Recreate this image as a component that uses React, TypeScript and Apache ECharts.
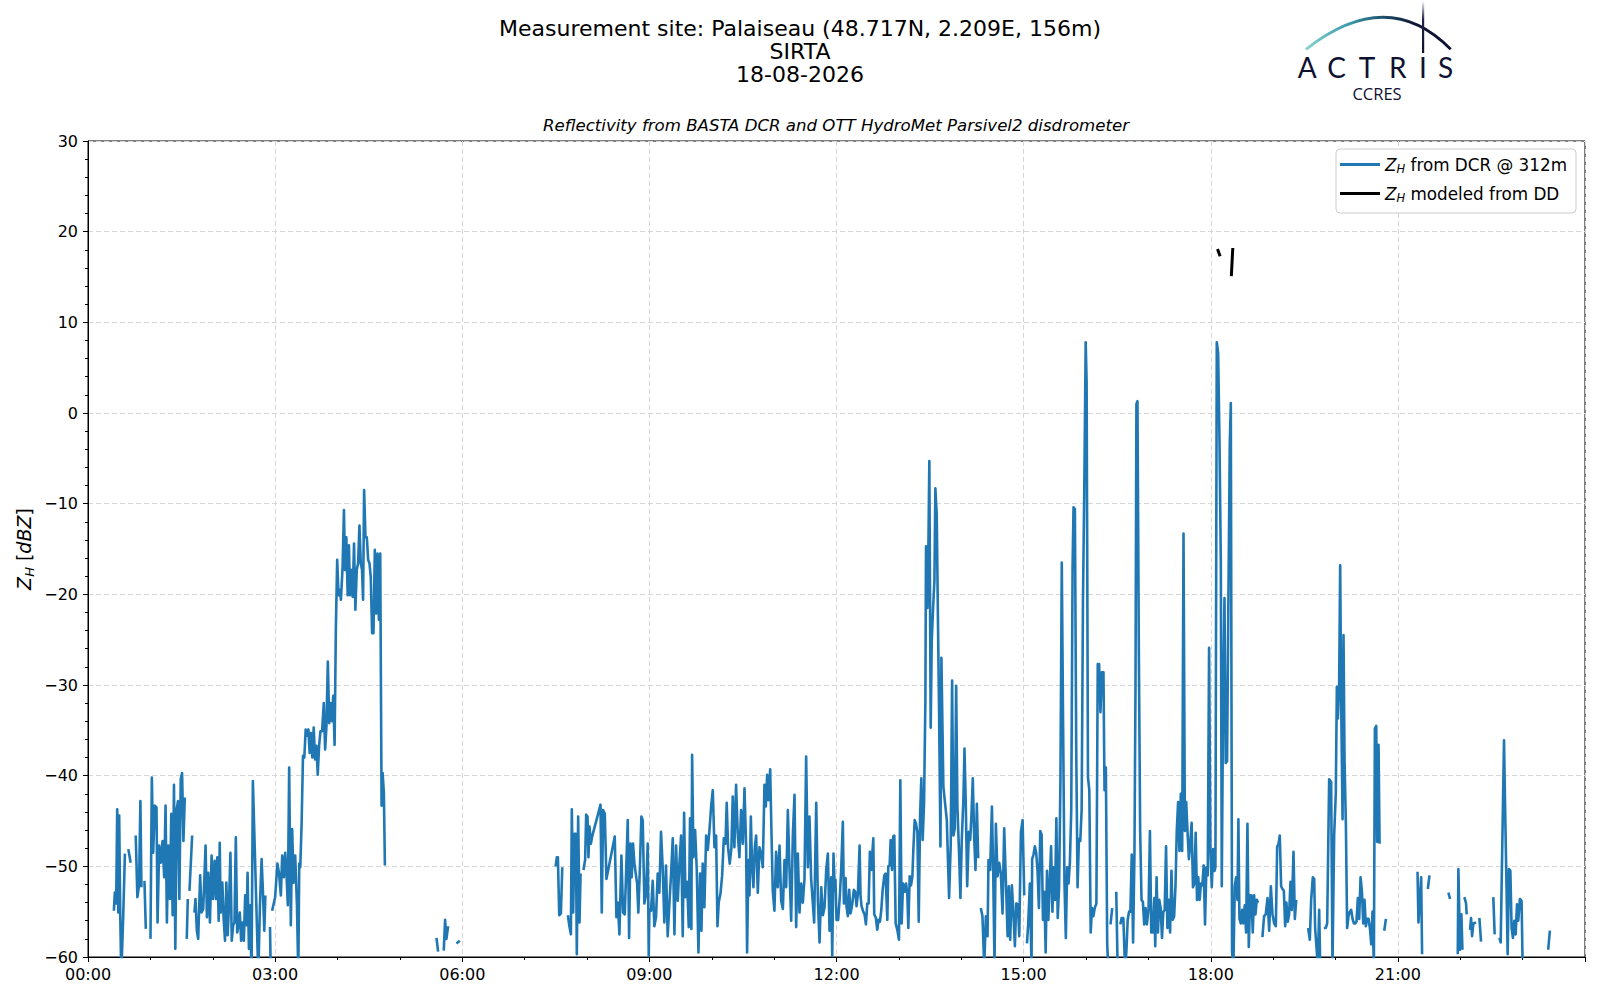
import React, { useEffect, useRef } from "react";
import * as echarts from "echarts";

// ---- texts ----
const titleLines = ["Measurement site: Palaiseau (48.717N, 2.209E, 156m)", "SIRTA", "18-08-2026"];
const subTitle = "Reflectivity from BASTA DCR and OTT HydroMet Parsivel2 disdrometer";
const seriesDcrName = "Z_H from DCR @ 312m";
const seriesDdName = "Z_H modeled from DD";
const logoLetters = ["A", "C", "T", "R", "I", "S"];

// ---- axes ----
const xMinMinutes = 0;
const xMaxMinutes = 1440;
const xTickStep = 180; // 3 h
const yMin = -60;
const yMax = 30;
const yTickStep = 10;

// ---- data: [minutes after 00:00 UTC, Z_H dBZ]; null = no data ----
const dcrNight = [
  [24.9, -54.9], [25.8, -52.9], [27.1, -54.1], [28.1, -43.7], [29.1, -55.1], [30.0, -44.4], [31.0, -55.2], [32.0, -62], [33.9, -55.4], [35.5, -48.6], [37, null],
  [38.8, -48.1], [41.0, -49.6], [43, null],
  [45.9, -46.6], [47.5, -53.4], [49.1, -52.1], [50.4, -42.8], [51.4, -52.3], [53, null],
  [54.3, -51.6], [55.6, -56.9], [58, null],
  [60.1, -58.0], [61.4, -40.2], [62.7, -48.5], [64.3, -43.3], [65.9, -43.5], [66.9, -56.2], [68.5, -47.7], [70.1, -49.6], [71.7, -47.2], [73.3, -51.2],
  [74.6, -43.3], [75.9, -56.2], [77.2, -47.7], [78.8, -53.6], [80.1, -44.2], [81.4, -55.4], [82.7, -41.0], [84.0, -59.1], [85.3, -43.7], [86.6, -42.8],
  [87.9, -53.6], [89.2, -40.4], [90.5, -39.7], [91.8, -47.2], [93.1, -42.4], [94, null],
  [95.0, -58.0], [96.0, -53.6], [96.8, null],
  [97.6, -52.7], [100.2, -46.6], [101.3, null],
  [102.4, -55.1], [103.4, -53.6], [104.7, -57.1], [106.0, -58.0], [107.9, -51.0], [109.2, -55.1], [110.8, -54.7], [113.1, -47.7], [114.4, -55.6],
  [115.7, -50.7], [117.3, -56.2], [118.9, -48.8], [120.2, -53.6], [121.8, -49.4], [123.1, -53.6], [124.4, -49.0], [125.7, -56.0], [126.7, -47.4],
  [127.6, -55.1], [129.2, -51.8], [130.5, -55.8], [131.8, -58.2], [133.1, -51.8], [134.4, -57.6], [135.7, -54.0], [137.0, -48.5], [138.3, -58.2],
  [139.6, -56.5], [140.9, -56.2], [142.2, -46.8], [143.5, -57.3], [144.7, -56.5], [146.0, -55.1], [147.3, -58.2], [148.6, -56.2], [149.9, -58.2],
  [151.2, -53.2], [152.5, -56.5], [153.5, -50.7], [154.8, -59.1], [156.1, -54.3], [157.3, -62], [158.6, -40.6], [163.8, -62], [165.4, -54.3],
  [167.0, -49.2], [168.3, -52.9], [169.6, -57.1], [170.6, -53.2], [173, null],
  [175.1, -56.7], [175.8, -62], [176.5, null],
  [177.1, -54.9], [180.0, -53.4], [180.9, -51.9], [182.2, -49.7], [183.8, -50.8], [185.5, -53.2], [186.8, -48.8], [188.4, -51.2], [189.7, -48.5],
  [191.0, -51.0], [192.2, -54.3], [193.5, -39.1], [195.1, -56.5], [196.4, -45.9], [197.7, -51.8], [199.3, -48.8], [201.0, -54.3], [202.3, -62],
  [203.2, -49.7], [204.2, -50.1], [205.5, -45.2], [206.8, -37.8], [208.1, -38.0], [209.4, -34.9], [210.7, -35.6], [212.0, -34.9], [213.2, -37.5],
  [214.5, -35.3], [215.8, -38.0], [217.1, -34.7], [218.4, -38.2], [219.7, -36.7], [221.0, -39.9], [222.3, -36.7], [223.6, -35.1], [225.2, -35.1],
  [226.8, -32.0], [228.1, -37.1], [229.4, -34.5], [230.7, -27.4], [232.0, -34.2], [233.3, -32.0], [234.6, -34.0], [235.9, -31.2], [237.2, -36.6],
  [238.4, -23.9], [239.7, -16.2], [241.0, -20.1], [242.3, -19.5], [243.3, -20.6], [244.9, -17.0], [246.2, -10.7], [247.2, -17.3], [248.5, -13.7],
  [249.8, -20.1], [251.0, -14.6], [252.0, -20.1], [253.3, -17.3], [254.6, -20.3], [255.9, -14.4], [257.2, -21.7], [258.5, -17.3], [259.8, -16.6],
  [261.1, -12.4], [262.4, -16.6], [263.6, -17.3], [264.6, -20.6], [265.6, -8.5], [266.9, -13.7], [268.2, -13.7], [269.5, -16.2], [270.8, -16.6],
  [272.0, -18.1], [273.3, -24.3], [274.6, -24.3], [275.9, -15.1], [277.2, -22.1], [278.5, -15.5], [279.8, -22.8], [281.1, -15.5], [282.4, -43.3],
  [283.4, -39.7], [284.6, -41.9], [285.6, -49.9], [300, null],
];

const dcrDawn = [
  [335.2, -57.9], [336.8, -59.4], [339, null],
  [342.2, -59.3], [343.5, -55.9], [344.8, -58.0], [346.4, -56.6], [350, null],
  [354.4, -58.5], [357.6, -58.2], [400, null],
];

const dcrMorning = [
  [449.8, -50.0], [451.0, -49.0], [452.0, -49.0], [453.3, -55.4], [454.9, -55.2], [456.2, -50.1], [458, null],
  [461.6, -55.4], [463.2, -56.7], [464.5, -57.5], [465.4, -43.7], [466.7, -55.1], [468.0, -46.4], [469.3, -46.4], [470.2, -59.7], [471.5, -44.5],
  [472.8, -56.2], [473.8, -50.8], [475, null],
  [476.6, -50.4], [478.2, -49.3], [479.2, -44.3], [480.5, -44.5], [481.4, -49.0], [482.4, -45.6], [483.7, -47.5], [485.0, -46.7], [493.0, -43.2],
  [494.2, -55.1], [495.5, -43.8], [497.1, -44.2], [498.7, -51.4], [506.7, -46.7], [508.3, -55.6], [509.6, -54.0], [511.2, -57.5], [513.1, -48.8],
  [514.7, -55.1], [516.3, -55.3], [517.3, -51.9], [519.2, -44.9], [520.5, -57.9], [521.8, -47.5], [523.0, -51.2], [524.3, -47.5], [525.6, -49.7],
  [528.2, -51.9], [529.4, -55.1], [531.0, -49.7], [532.3, -44.5], [533.6, -44.9], [535.2, -54.1], [536.8, -53.0], [538.4, -47.5], [539.4, -59.9],
  [540.0, -54.7], [541.6, -54.9], [543.2, -51.6], [544.8, -56.6], [546.4, -55.6], [548.0, -50.8], [549.6, -52.9], [551.2, -46.2], [552.8, -50.1],
  [554.4, -56.2], [556.0, -49.9], [557.6, -57.7], [559.3, -54.0], [560.9, -50.8], [562.5, -46.9], [564.1, -57.5], [565.7, -47.7], [567.3, -53.8],
  [568.9, -49.7], [570.5, -46.6], [572.1, -57.7], [573.4, -44.1], [574.7, -53.4], [576.3, -51.7], [577.9, -56.7], [579.1, -44.7], [580.4, -56.9],
  [581.1, -37.7], [582.4, -49.0], [584.0, -46.0], [585.6, -50.4], [587.2, -59.5], [588.8, -50.8], [590.1, -57.1], [591.3, -49.7], [592.9, -54.5],
  [594.6, -46.6], [596.2, -48.2], [597.8, -46.0], [599.4, -43.4], [601.0, -41.6], [602.6, -47.9], [604.2, -46.6], [605.5, -56.6], [606.7, -54.0],
  [608.4, -53.0], [610.0, -51.0], [611.6, -46.9], [613.2, -47.5], [614.4, -43.0], [615.7, -47.9], [617.3, -49.7], [618.9, -48.0], [620.2, -42.3],
  [621.8, -47.9], [623.4, -41.0], [625.0, -46.4], [626.6, -49.0], [628.2, -43.8], [629.9, -47.5], [631.5, -41.4], [633.1, -47.9], [634.0, -59.5],
  [635.3, -49.3], [636.3, -53.2], [637.6, -44.5], [638.8, -50.1], [640.1, -52.3], [641.4, -47.9], [642.7, -46.6], [644.3, -52.9], [645.9, -47.9],
  [647.5, -48.6], [649.1, -50.1], [650.7, -41.0], [652.0, -43.4], [653.3, -39.9], [654.6, -42.7], [656.2, -39.3], [657.4, -46.0], [658.7, -52.7],
  [660.3, -54.9], [661.9, -48.4], [663.5, -52.3], [665.2, -47.7], [666.8, -53.8], [668.4, -54.7], [670.0, -49.3], [671.6, -52.3], [673.2, -43.8],
  [674.8, -50.4], [676.4, -56.0], [678.0, -46.6], [679.6, -42.1], [681.2, -56.7], [682.8, -48.6], [684.4, -55.1], [686.0, -51.9], [687.6, -54.0],
  [689.2, -51.4], [690.8, -37.9], [692.4, -50.1], [694.0, -44.5], [695.6, -51.4], [697.2, -54.0], [698.5, -56.2], [700.5, -43.0], [702.1, -53.8],
  [703.7, -58.4], [705.3, -52.3], [706.9, -55.4], [708.5, -54.5], [710.1, -50.4], [711.7, -48.6], [713.3, -57.1], [714.9, -51.2], [715.9, -59.9],
  [717.1, -48.6], [718.4, -52.7],
];

const dcrAfternoon = [
  [719.0, -51.5], [720.0, -55.9], [721.6, -55.9], [723.2, -53.3], [724.5, -50.4], [726.1, -45.1], [727.1, -54.1], [728.7, -51.3], [729.6, -54.4],
  [730.9, -55.5], [732.2, -52.6], [733.5, -55.2], [735.1, -54.2], [736.7, -52.6], [738.0, -52.8], [739.3, -54.4], [740.6, -53.0], [742.2, -47.7],
  [743.1, -53.2], [744.1, -54.4], [745.7, -55.0], [747.0, -55.3], [748.3, -56.4], [749.6, -54.1], [750.9, -54.1], [752.1, -48.4], [753.4, -50.4],
  [755.4, -46.9], [756.3, -55.3], [757.9, -55.7], [759.2, -57.0], [760.5, -55.9], [761.8, -56.1], [763.1, -54.8], [764.4, -52.6], [766.0, -51.0],
  [767.2, -50.8], [768.9, -55.9], [769.8, -50.0], [771.1, -49.9], [772.1, -47.1], [773.4, -50.4], [774.6, -46.7], [775.6, -46.6], [776.9, -56.3],
  [778.5, -57.0], [780.1, -58.1], [781.4, -40.5], [782.7, -56.3], [784.0, -51.9], [785.6, -52.8], [786.9, -51.9], [788.1, -53.0], [789.1, -56.8],
  [790.4, -51.1], [791.7, -52.1], [793.0, -51.1], [793.9, -48.2], [795.2, -44.9], [796.5, -45.3], [797.8, -46.2], [799.1, -56.1], [800.4, -44.5],
  [801.6, -40.3], [802.9, -47.1], [804.2, -43.1], [805.5, -31.7], [806.1, -14.7], [807.4, -21.5], [808.4, -14.9], [809.3, -5.3], [810.6, -34.7],
  [811.6, -25.2], [812.9, -21.5], [814.2, -18.5], [815.1, -8.3], [816.4, -11.2], [817.7, -23.8], [818.7, -33.2], [820.0, -47.8], [820.9, -27.0],
  [822.8, -41.2], [826.1, -44.9], [828.3, -53.5], [829.9, -47.5], [831.2, -29.5], [832.5, -46.6], [833.8, -45.8], [835.1, -30.1], [836.3, -43.4],
  [838.0, -48.9], [839.2, -53.5], [840.5, -47.1], [842.1, -42.5], [843.1, -37.0], [844.4, -43.4], [845.7, -52.2], [847.3, -46.2], [848.6, -47.1],
  [849.8, -44.4], [851.1, -40.3], [852.4, -46.7], [853.7, -50.4], [855.0, -43.1], [856.3, -49.1], [857.5, null],
  [858.8, -54.6], [860.4, -55.5], [862.1, -61], [863.7, -55.5], [865.3, -57.7], [866.2, -49.3], [867.8, -50.4], [869.5, -43.4], [870.7, -50.4],
  [872.0, -61], [873.3, -45.3], [874.9, -51.1], [876.5, -49.6], [878.1, -50.8], [879.7, -55.2], [881.3, -45.8], [882.9, -51.5], [884.6, -57.7],
  [885.8, -52.2], [887.1, -58.1], [888.7, -52.1], [890.3, -55.5], [891.6, -58.8], [892.9, -54.1], [894.5, -54.2], [895.8, -57.7], [897.4, -46.2],
  [899.0, -44.9], [900.6, -53.2], [902, null],
  [903.2, -58.5], [904.4, -56.4], [906.0, -51.9], [907.6, -61], [908.2, -49.2], [909.5, -48.7], [910.8, -47.8], [912.1, -48.5], [913.4, -50.5],
  [914.7, -54.6], [916.0, -46.1], [917.3, -46.5], [918.6, -55.9], [919.9, -52.8], [921.2, -59.5], [922.5, -50.5], [923.8, -55.9], [925.1, -51.9],
  [926.4, -47.8], [927.7, -55.0], [928.9, -50.1], [930.2, -53.7], [931.5, -44.7], [932.8, -55.7], [934.1, -52.3], [935.4, -40.7], [936.7, -16.5],
  [938.0, -34.8], [939.3, -51.9], [940.6, -57.9], [941.9, -50.1], [943.2, -51.9], [944.5, -49.6], [945.8, -43.8], [947.1, -16.9], [948.0, -10.4],
  [949.3, -10.6], [950.6, -37.1], [951.9, -52.3], [953.2, -47.0], [954.5, -47.2], [955.8, -43.8], [957.1, -20.5], [958.4, -7.9], [959.7, 7.8],
  [960.6, 3.3], [961.9, -40.2], [963.2, -41.6], [964.5, -57.3], [965.8, -54.6], [967.1, -55.5], [968.4, -54.6], [970.0, -54.1], [971.3, -27.7],
  [972.6, -27.7], [973.9, -33.0], [975.2, -28.6], [976.8, -28.6], [977.8, -41.6], [979.1, -39.1], [980.4, -58.6], [981.4, -61], [982.5, null],
  [983.6, -56.4], [985.2, -54.6], [987, null],
  [989.1, -52.8], [990.4, -61], [991.7, null],
];

const dcrEvening = [
  [993.0, -56.4], [994.3, -55.7], [995.9, -55.7], [997.5, -61], [998.8, -59.5], [1000.1, -55.9], [1001.4, -55.0], [1002.7, -55.0], [1004.0, -48.7],
  [1005.3, -58.4], [1006.6, -48.7], [1007.6, -30.4], [1008.5, 1.0], [1009.5, 1.3], [1010.8, -25.9], [1012.1, -46.1], [1013.4, -53.7], [1014.7, -53.9],
  [1016.0, -56.4], [1017.3, -54.6], [1018.6, -56.4], [1020.2, -54.6], [1021.5, -46.1], [1022.8, -57.3], [1024.1, -57.3], [1025.7, -53.5], [1026.6, -58.8],
  [1027.9, -51.2], [1029.2, -57.3], [1030.5, -53.7], [1031.8, -54.6], [1033.1, -57.9], [1034.4, -55.0], [1035.7, -54.8], [1037.0, -47.8], [1038.3, -56.8],
  [1039.6, -53.7], [1040.9, -57.3], [1042.2, -50.5], [1043.5, -55.9], [1044.8, -55.5], [1046.1, -52.1], [1047.3, -46.1], [1048.6, -42.9], [1049.9, -48.3],
  [1051.2, -42.0], [1052.5, -48.3], [1053.8, -13.3], [1055.1, -46.1], [1056.4, -42.9], [1057.7, -46.3], [1059.0, -49.2], [1060.3, -47.4], [1061.6, -45.2],
  [1062.9, -52.3], [1064.2, -51.9], [1065.5, -46.3], [1066.8, -53.7], [1068.0, -51.2], [1069.3, -53.7], [1070.6, -51.9], [1071.9, -52.1], [1073.2, -49.9],
  [1074.5, -56.4], [1075.8, -50.1], [1077.1, -51.0], [1078.4, -25.9], [1079.7, -48.3], [1081.0, -52.3], [1082.3, -48.1], [1083.6, -50.5], [1084.5, -50.1],
  [1085.8, 7.8], [1087.1, 6.6], [1088.4, -3.0], [1089.7, -16.5], [1090.6, -52.2], [1091.9, -31.2], [1093.2, -20.4], [1094.4, -38.6], [1095.7, -38.4],
  [1097.0, -20.4], [1098.3, -3.5], [1099.3, 1.1], [1100.5, -59.4], [1101.8, -61], [1103.1, -52.2], [1104.4, -51.2], [1105.7, -53.7], [1106.6, -44.8],
  [1107.6, -55.8], [1108.9, -56.3], [1110.2, -54.8], [1111.4, -56.3], [1112.7, -54.3], [1114.0, -57.3], [1115.3, -45.3], [1116.6, -58.9], [1117.9, -53.2],
  [1119.1, -53.2], [1120.4, -57.3], [1121.7, -53.2], [1123.0, -55.3], [1124.3, -53.7], [1125.6, -54.0], [1127.5, null],
  [1129.7, -57.8], [1131.3, -55.5], [1132.9, -55.3], [1134.6, -53.5], [1136.2, -57.1], [1137.8, -52.2], [1139.4, -55.3], [1141.0, -56.3], [1142.6, -56.6],
  [1143.9, -47.8], [1145.1, -47.6], [1146.4, -46.6], [1147.7, -52.2], [1149.0, -52.5], [1150.3, -52.7], [1151.6, -56.6], [1152.8, -54.0], [1154.1, -56.1],
  [1155.4, -55.3], [1156.7, -51.7], [1158.0, -54.8], [1159.6, -48.4], [1160.9, -55.8], [1162.2, -53.7], [1168, null],
  [1173.7, -56.8], [1175.3, -58.1], [1176.6, -53.7], [1178.2, -51.2], [1179.5, -51.4], [1180.4, -56.8], [1181.7, -58.9], [1183.0, -61], [1184.3, -54.8],
  [1185.3, -61], [1187, null],
  [1188.8, -56.8], [1190.7, -56.8], [1192.0, -56.3], [1193.9, -40.4], [1195.8, -40.7], [1197.1, -61], [1198.7, -46.6], [1200.3, -41.9], [1201.3, -30.2],
  [1202.3, -33.7], [1203.5, -29.9], [1204.5, -16.8], [1205.5, -32.2], [1206.8, -44.8], [1207.7, -24.5], [1208.7, -38.4], [1210.0, -45.5], [1211.2, -56.8],
  [1212.5, -55.5], [1213.8, -55.0], [1215.1, -54.8], [1216.4, -55.8], [1217.7, -56.3], [1218.9, -56.3], [1220.2, -56.1], [1221.5, -53.5], [1222.8, -55.8],
  [1224.1, -51.2], [1225.4, -52.7], [1226.7, -56.3], [1227.9, -53.7], [1229.2, -56.6], [1230.5, -55.8], [1231.8, -55.8], [1233.1, -56.8], [1234.4, -58.6],
  [1235.6, -55.0], [1236.9, -61], [1237.9, -34.8], [1239.2, -34.5], [1240.1, -47.3], [1241.4, -36.6], [1242.4, -47.5], [1244, null],
  [1246.9, -57.1], [1248.5, -55.8], [1260, null],
];

const dcrNight2 = [
  [1278.9, -50.6], [1279.8, -56.2], [1282.4, -51.2], [1283.3, -59.7], [1285, null],
  [1288.8, -52.5], [1290.4, -51.0], [1295, null],
  [1308.6, -52.9], [1310.2, -53.6], [1314, null],
  [1317.6, -59.7], [1318.2, -50.3], [1319.8, -59.2], [1321.1, -55.3], [1322.1, -59.2], [1323, null],
  [1324.0, -53.4], [1325.6, -54.1], [1326.2, -55.3], [1328, null],
  [1329.4, -57.0], [1330.4, -55.7], [1331.4, -57.7], [1332.6, -56.3], [1335.2, -56.2], [1337, null],
  [1338.4, -55.7], [1340.0, -58.3], [1345, null],
  [1351.8, -53.4], [1353.1, -57.5], [1355, null],
  [1357.6, -57.9], [1358.9, -58.4], [1362.1, -36.1], [1363.0, -42.6], [1364.3, -50.8], [1365.6, -59.7], [1366.9, -50.3], [1368.2, -50.5],
  [1369.4, -56.8], [1370.7, -57.9], [1372.0, -56.0], [1373.3, -57.5], [1374.6, -54.2], [1375.8, -56.0], [1377.4, -53.6], [1379.0, -53.8], [1380.0, -61],
  [1390, null],
  [1404.6, -59.2], [1406.2, -57.1],
];

const ddModel = [
  [1086.5, 18.1], [1089.0, 17.3], [1094, null],
  [1099.8, 15.1], [1101.2, 18.2],
];

// ---- style constants ----
const FONT = "'DejaVu Sans', 'Liberation Sans', sans-serif";
const BLUE = "#1f77b4";
const NAVY = "#0e1130";

const toSeriesData = (rows) => rows.map(([t, v]) => [t, v === null ? "-" : v]);

const hhmm = (m) => {
  const h = Math.floor(m / 60);
  const mm = Math.round(m % 60);
  return `${String(h).padStart(2, "0")}:${String(mm).padStart(2, "0")}`;
};

const richName = (name) => name.replace(/^Z_H/, "{z|Z}{h|H}{t|") + "}";

export default function App() {
  const ref = useRef(null);

  useEffect(() => {
    if (!ref.current) return;
    const chart = echarts.init(ref.current, null, { renderer: "svg" });

    const legendRich = {
      z: { fontFamily: FONT, fontStyle: "italic", fontSize: 16.8, color: "#000", lineHeight: 21 },
      h: { fontFamily: FONT, fontStyle: "italic", fontSize: 11.5, color: "#000", lineHeight: 21, verticalAlign: "bottom", padding: [6, 0, 0, 0] },
      t: { fontFamily: FONT, fontSize: 16.8, color: "#000", lineHeight: 21 },
    };

    const option = {
      animation: false,
      backgroundColor: "#ffffff",
      grid: {
        left: 88,
        right: 15,
        top: 141,
        bottom: 43,
        show: true,
        borderColor: "#000",
        borderWidth: 1,
        backgroundColor: "transparent",
        containLabel: false,
      },
      xAxis: {
        type: "value",
        min: xMinMinutes,
        max: xMaxMinutes,
        interval: xTickStep,
        axisLine: { show: true, onZero: false, lineStyle: { color: "#000", width: 1 } },
        axisTick: { show: true, inside: false, length: 5, lineStyle: { color: "#000", width: 1 } },
        minorTick: { show: true, splitNumber: 3, length: 3, lineStyle: { color: "#000", width: 1 } },
        splitLine: { show: true, lineStyle: { color: "#d6d6d6", width: 1, type: [5, 3] } },
        axisLabel: {
          show: true,
          margin: 9,
          fontFamily: FONT,
          fontSize: 16,
          color: "#000",
          showMaxLabel: false,
          formatter: (v) => (v >= xMaxMinutes ? "" : hhmm(v)),
        },
      },
      yAxis: {
        type: "value",
        min: yMin,
        max: yMax,
        interval: yTickStep,
        axisLine: { show: true, onZero: false, lineStyle: { color: "#000", width: 1 } },
        axisTick: { show: true, inside: false, length: 5, lineStyle: { color: "#000", width: 1 } },
        minorTick: { show: true, splitNumber: 5, length: 3, lineStyle: { color: "#000", width: 1 } },
        splitLine: { show: true, lineStyle: { color: "#d6d6d6", width: 1, type: [5, 3] } },
        axisLabel: {
          show: true,
          margin: 10,
          fontFamily: FONT,
          fontSize: 16,
          color: "#000",
          formatter: (v) => String(v).replace("-", "\u2212"),
        },
      },
      legend: {
        show: true,
        orient: "vertical",
        left: 1336,
        top: 149,
        icon: "rect",
        itemWidth: 40,
        itemHeight: 3,
        itemGap: 10,
        padding: [7, 9, 9, 4],
        backgroundColor: "#ffffff",
        borderColor: "#cccccc",
        borderWidth: 1,
        borderRadius: 4,
        selectedMode: false,
        data: [seriesDcrName, seriesDdName],
        formatter: (name) => richName(name),
        textStyle: { fontFamily: FONT, fontSize: 16.8, color: "#000", rich: legendRich },
      },
      series: [
        {
          name: seriesDcrName,
          type: "line",
          data: toSeriesData([...dcrNight, ...dcrDawn, ...dcrMorning, ...dcrAfternoon, ...dcrEvening, ...dcrNight2]),
          showSymbol: false,
          symbol: "none",
          connectNulls: false,
          clip: true,
          color: BLUE,
          lineStyle: { color: BLUE, width: 2.6, join: "round" },
          z: 2,
        },
        {
          name: seriesDdName,
          type: "line",
          data: toSeriesData(ddModel),
          showSymbol: false,
          symbol: "none",
          connectNulls: false,
          clip: true,
          color: "#000",
          lineStyle: { color: "#000", width: 3 },
          z: 3,
        },
      ],
      graphic: [
        // titles
        ...titleLines.map((line, i) => ({
          type: "text",
          x: 800,
          y: 28.6 + i * 23,
          style: { text: line, font: `22px ${FONT}`, fill: "#000", textAlign: "center", textVerticalAlign: "middle" },
        })),
        {
          type: "text",
          x: 836,
          y: 125.5,
          style: { text: subTitle, font: `italic 16.6px ${FONT}`, fill: "#000", textAlign: "center", textVerticalAlign: "middle" },
        },
        // y axis name
        {
          type: "text",
          x: 24,
          y: 549,
          rotation: Math.PI / 2,
          style: {
            text: "{z|Z}{h|H}{t| [}{z|dBZ}{t|]}",
            textAlign: "center",
            textVerticalAlign: "middle",
            rich: {
              z: { font: `italic 19px ${FONT}`, fill: "#000", lineHeight: 24 },
              h: { font: `italic 13px ${FONT}`, fill: "#000", lineHeight: 24, verticalAlign: "bottom", padding: [8, 0, 0, 0] },
              t: { font: `19px ${FONT}`, fill: "#000", lineHeight: 24 },
            },
          },
        },
        // logo: arc
        {
          type: "bezierCurve",
          shape: { x1: 1306, y1: 49.3, x2: 1450.7, y2: 49.3, cpx1: 1387.6, cpy1: -14.7 },
          style: {
            fill: "none",
            lineWidth: 2.8,
            stroke: {
              type: "linear", x: 0, y: 0, x2: 1, y2: 0,
              colorStops: [
                { offset: 0, color: "#86d3cf" },
                { offset: 0.3, color: "#3a9aa8" },
                { offset: 0.55, color: "#1b4c6a" },
                { offset: 0.75, color: "#111636" },
                { offset: 1, color: NAVY },
              ],
            },
          },
        },
        // logo: mast
        {
          type: "rect",
          shape: { x: 1422, y: 1, width: 2.2, height: 52 },
          style: {
            fill: {
              type: "linear", x: 0, y: 0, x2: 0, y2: 1,
              colorStops: [
                { offset: 0, color: "#ffffff" },
                { offset: 0.35, color: "#20244a" },
                { offset: 1, color: NAVY },
              ],
            },
          },
        },
        // logo letters
        ...logoLetters.map((ch, i) => ({
          type: "text",
          x: [1307.3, 1336.7, 1367, 1397.7, 1423, 1445.7][i],
          y: 66.5,
          style: { text: ch, font: `28px 'Lato', ${FONT}`, fill: NAVY, textAlign: "center", textVerticalAlign: "middle" },
        })),
        {
          type: "text",
          x: 1377,
          y: 93,
          style: { text: "CCRES", font: `16.5px 'Open Sans', ${FONT}`, fill: NAVY, textAlign: "center", textVerticalAlign: "middle" },
        },
      ],
    };

    chart.setOption(option);
    return () => chart.dispose();
  }, []);

  return (
    <div
      ref={ref}
      style={{ position: "fixed", left: 0, top: 0, width: 1600, height: 1000, background: "#fff" }}
    />
  );
}
